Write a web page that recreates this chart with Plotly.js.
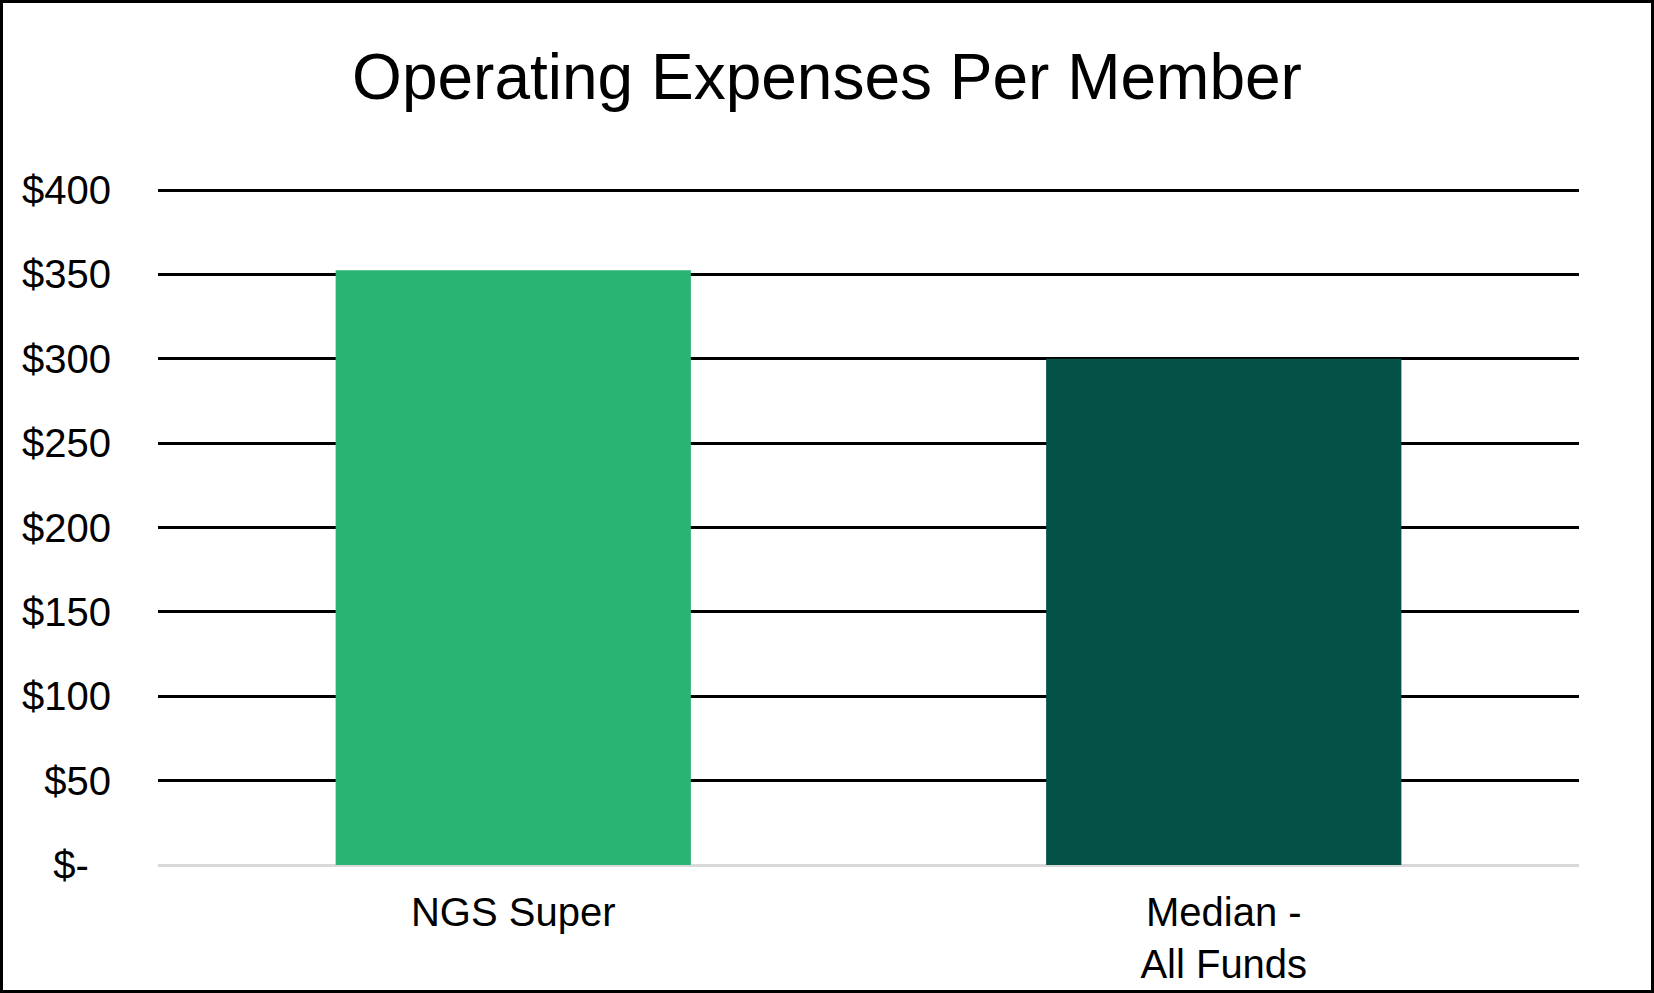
<!DOCTYPE html>
<html>
<head>
<meta charset="utf-8">
<script src="https://cdn.plot.ly/plotly-3.0.1.min.js"></script>
<style>
  body { margin: 0; background: #fff; }
  #wrap { position: relative; width: 1654px; height: 993px; }
  #frame { position: absolute; left: 0; top: 0; right: 0; bottom: 0; border: 3px solid #000; pointer-events: none; }
</style>
</head>
<body>
<div id="wrap">
  <div id="chart"></div>
  <div id="frame"></div>
</div>
<script>
// categories and values
var funds = ['NGS Super', 'Median -<br>All Funds'];
var costPerMember = [352.5, 300];
var barColors = ['#29b473', '#035147'];

var tickVals = [0, 50, 100, 150, 200, 250, 300, 350, 400];
// accounting style zero: dash sits left of the digit column
var tickText = ['$-\u00a0\u00a0', '$50', '$100', '$150', '$200', '$250', '$300', '$350', '$400'];

var data = [{
  type: 'bar',
  x: funds,
  y: costPerMember,
  marker: { color: barColors, line: { width: 0 } },
  hoverinfo: 'x+y'
}];

var font = 'Liberation Sans, Arial, sans-serif';

var layout = {
  width: 1654,
  height: 993,
  // top edge a touch above $400 so that gridline gets drawn
  margin: { l: 158, r: 75, t: 188, b: 128 },
  paper_bgcolor: '#fff',
  plot_bgcolor: '#fff',
  bargap: 0.5,
  showlegend: false,
  title: {
    text: 'Operating Expenses Per Member',
    font: { family: font, size: 64, color: '#000' },
    x: 0.5,
    xref: 'container',
    y: 0.923,
    yref: 'container',
    yanchor: 'middle'
  },
  xaxis: {
    showgrid: false,
    showline: false,
    ticks: '',
    ticklabelstandoff: 20,
    tickfont: { family: font, size: 40, color: '#000' }
  },
  yaxis: {
    range: [0, 401.2],
    tickvals: tickVals,
    ticktext: tickText,
    showgrid: true,
    gridcolor: '#000',
    gridwidth: 3,
    zeroline: true,
    zerolinecolor: '#d9d9d9',
    zerolinewidth: 3,
    showline: false,
    ticks: '',
    ticklabelstandoff: 46,
    tickfont: { family: font, size: 40, color: '#000' }
  }
};

Plotly.newPlot('chart', data, layout, { displayModeBar: false, staticPlot: true });
</script>
</body>
</html>
